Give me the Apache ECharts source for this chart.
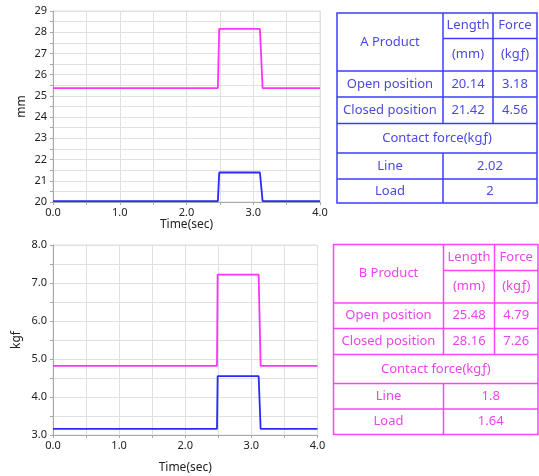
<!DOCTYPE html>
<html>
<head>
<meta charset="utf-8">
<script src="https://cdn.jsdelivr.net/npm/echarts@6/dist/echarts.min.js"></script>
<style>
html,body{margin:0;padding:0;background:#fff;}
#c{width:539px;height:476px;}
</style>
</head>
<body>
<div id="c"></div>
<script>
// ---- data ----
const xTicks = [0, 1, 2, 3, 4];
const topTimes = [0, 2.47, 2.49, 3.10, 3.14, 4.0];
const topPink = [25.37, 25.37, 28.16, 28.16, 25.37, 25.37];
const topBlue = [20.04, 20.04, 21.39, 21.39, 20.04, 20.04];
const botTimes = [0, 2.48, 2.49, 3.11, 3.14, 4.0];
const botPink = [4.82, 4.82, 7.22, 7.22, 4.82, 4.82];
const botBlue = [3.16, 3.16, 4.55, 4.55, 3.16, 3.16];

const rowLabels = ['Open position', 'Closed position'];
const colHeads = ['Length', 'Force'];
const colUnits = ['(mm)', '(kgƒ)'];
const contactTitle = 'Contact force(kgƒ)';
const contactLabels = ['Line', 'Load'];
const aTitle = 'A Product';
const aValues = [[20.14, 3.18], [21.42, 4.56]];
const aContact = [2.02, 2];
const bTitle = 'B Product';
const bValues = [[25.48, 4.79], [28.16, 7.26]];
const bContact = [1.8, 1.64];

// ---- helpers ----
const FONT = 'Noto Sans';
function pairs(xs, ys) { return xs.map((x, i) => [x, ys[i]]); }

function makeTable(cx, ry, border, txt, title, values, contact) {
  const els = [];
  const lw = 1.5;
  const line = (x1, y1, x2, y2) => els.push({type: 'line', shape: {x1, y1, x2, y2}, style: {stroke: border, lineWidth: lw}, silent: true});
  const text = (s, xa, xb, ya, yb) => els.push({type: 'text', x: (xa + xb) / 2, y: (ya + yb) / 2,
    style: {text: String(s), fill: txt, font: '13px "' + FONT + '"', textAlign: 'center', textVerticalAlign: 'middle'}, silent: true});
  els.push({type: 'rect', shape: {x: cx[0], y: ry[0], width: cx[3] - cx[0], height: ry[7] - ry[0]},
    style: {fill: 'none', stroke: border, lineWidth: lw}, silent: true});
  line(cx[1], ry[0], cx[1], ry[4]);
  line(cx[2], ry[0], cx[2], ry[4]);
  line(cx[1], ry[5], cx[1], ry[7]);
  line(cx[1], ry[1], cx[3], ry[1]);
  [2, 3, 4, 5, 6].forEach(i => line(cx[0], ry[i], cx[3], ry[i]));
  text(title, cx[0], cx[1], ry[0], ry[2]);
  colHeads.forEach((h, j) => text(h, cx[j + 1], cx[j + 2], ry[0], ry[1]));
  colUnits.forEach((h, j) => text(h, cx[j + 1], cx[j + 2], ry[1], ry[2]));
  rowLabels.forEach((r, i) => {
    text(r, cx[0], cx[1], ry[2 + i], ry[3 + i]);
    values[i].forEach((v, j) => text(v.toFixed(2), cx[j + 1], cx[j + 2], ry[2 + i], ry[3 + i]));
  });
  text(contactTitle, cx[0], cx[3], ry[4], ry[5]);
  contactLabels.forEach((r, i) => {
    text(r, cx[0], cx[1], ry[5 + i], ry[6 + i]);
    text(contact[i], cx[1], cx[3], ry[5 + i], ry[6 + i]);
  });
  return els;
}

const PINK = '#ff33ff';
const BLUE = '#2a2aff';
const axisGray = '#a8a8a8';
const gridGray = '#e0e0e0';

function xAxisCfg(gridIndex, gap) {
  return {
    type: 'value', gridIndex, min: 0, max: 4, interval: 0.5,
    name: 'Time(sec)', nameLocation: 'middle', nameGap: gap,
    nameTextStyle: {fontFamily: FONT, fontSize: 12, color: '#222'},
    axisLine: {show: true, lineStyle: {color: axisGray}},
    axisTick: {show: true, length: 3, lineStyle: {color: axisGray}},
    splitLine: {show: true, lineStyle: {color: gridGray}},
    axisLabel: {fontFamily: FONT, fontSize: 11, color: '#222', margin: 5,
      formatter: v => (xTicks.indexOf(v) >= 0 ? v.toFixed(1) : '')}
  };
}
function yAxisCfg(gridIndex, min, max, name, gap, dec) {
  return {
    type: 'value', gridIndex, min, max, interval: 0.5,
    name, nameLocation: 'middle', nameGap: gap,
    nameTextStyle: {fontFamily: FONT, fontSize: 12, color: '#222'},
    axisLine: {show: true, lineStyle: {color: axisGray}},
    axisTick: {show: true, length: 3, lineStyle: {color: axisGray}},
    splitLine: {show: true, lineStyle: {color: gridGray}},
    axisLabel: {fontFamily: FONT, fontSize: 11, color: '#222', margin: 6,
      formatter: v => (Math.abs(v - Math.round(v)) < 1e-9 ? v.toFixed(dec) : '')}
  };
}

const chart = echarts.init(document.getElementById('c'), null, {renderer: 'canvas'});
chart.setOption({
  animation: false,
  backgroundColor: '#fff',
  grid: [
    {left: 53, top: 11, width: 267, height: 191, show: true, borderColor: gridGray, borderWidth: 1},
    {left: 53, top: 245, width: 264.5, height: 190, show: true, borderColor: gridGray, borderWidth: 1}
  ],
  xAxis: [xAxisCfg(0, 17), xAxisCfg(1, 27)],
  yAxis: [yAxisCfg(0, 20, 29, 'mm', 25, 0), yAxisCfg(1, 3, 8, 'kgf', 30, 1)],
  series: [
    {type: 'line', xAxisIndex: 0, yAxisIndex: 0, data: pairs(topTimes, topPink), showSymbol: false, lineStyle: {color: PINK, width: 1.8}},
    {type: 'line', xAxisIndex: 0, yAxisIndex: 0, data: pairs(topTimes, topBlue), showSymbol: false, lineStyle: {color: BLUE, width: 1.8}},
    {type: 'line', xAxisIndex: 1, yAxisIndex: 1, data: pairs(botTimes, botPink), showSymbol: false, lineStyle: {color: PINK, width: 1.8}},
    {type: 'line', xAxisIndex: 1, yAxisIndex: 1, data: pairs(botTimes, botBlue), showSymbol: false, lineStyle: {color: BLUE, width: 1.8}}
  ],
  graphic: [].concat(
    makeTable([337, 443, 493, 537], [13, 38.5, 71, 97, 123.5, 153, 179, 203], '#3c3cff', '#4a4ade', aTitle, aValues, aContact),
    makeTable([333.5, 443.5, 494.5, 538], [244.5, 270.5, 303, 328.5, 354.5, 383.5, 409, 434.5], '#ff44ff', '#ee44ee', bTitle, bValues, bContact)
  )
});
</script>
</body>
</html>
